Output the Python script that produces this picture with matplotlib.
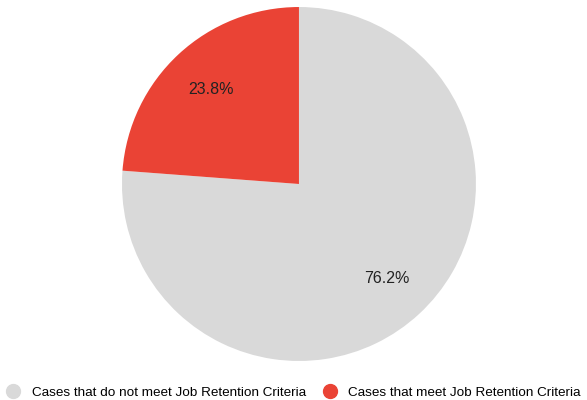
import matplotlib.pyplot as plt
from matplotlib.lines import Line2D

plt.rcParams['font.family'] = ['Liberation Sans', 'DejaVu Sans']

labels = ['Cases that do not meet Job Retention Criteria', 'Cases that meet Job Retention Criteria']
shares = [76.2, 23.8]
colors = ['#d9d9d9', '#ea4335']

fig = plt.figure(figsize=(5.87, 4.0), dpi=100)
ax = fig.add_axes([0.2078, 0.0975, 0.603, 0.885])

# gray slice starts at 12 o'clock and runs clockwise
ax.pie(shares, colors=colors, startangle=90, counterclock=False,
       autopct='%.1f%%', pctdistance=0.73, radius=1,
       textprops={'fontsize': 11.5, 'color': '#222222'})
ax.set_xlim(-1, 1)
ax.set_ylim(-1, 1)
ax.set_aspect('equal')
ax.axis('off')

handles = [Line2D([], [], marker='o', linestyle='', markersize=10,
                  markerfacecolor=c, markeredgecolor=c) for c in colors]
fig.legend(handles, labels, loc='center left', bbox_to_anchor=(0.0, 0.018),
           ncol=2, frameon=False, fontsize=9.7, handletextpad=0.84,
           columnspacing=1.33, handlelength=1.0, borderpad=0, borderaxespad=0.5)

fig.savefig('out.png', dpi=100)
